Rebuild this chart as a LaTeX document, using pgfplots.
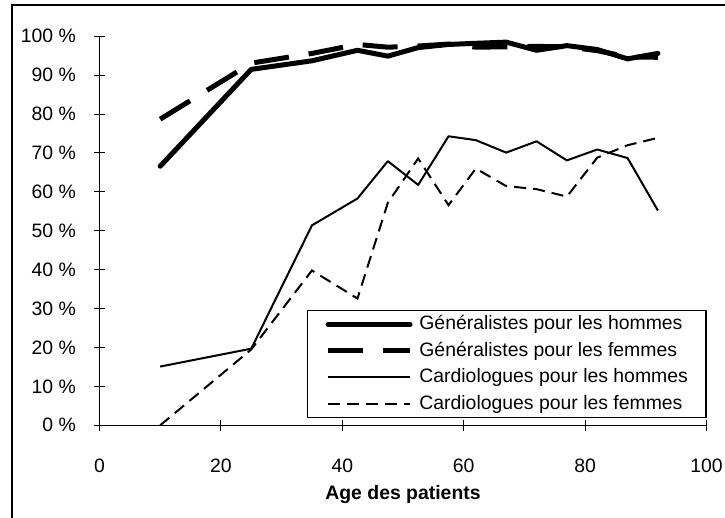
\documentclass[border=0pt]{standalone}
\usepackage{fontspec}
\setmainfont{Liberation Sans}
\usepackage{pgfplots}
\pgfplotsset{compat=1.18}
\usetikzlibrary{calc}

\begin{document}
\begin{tikzpicture}[font=\fontsize{9.7bp}{11.6bp}\selectfont]
\begin{axis}[
  scale only axis, width=303.5bp, height=194.5bp,
  xmin=0, xmax=100, ymin=0, ymax=100,
  axis x line=bottom, axis y line=left,
  axis line style={-, line width=0.5bp, black},
  tick align=center, major tick length=5.5bp,
  tick style={line width=0.5bp, black},
  xtick={0,20,40,60,80,100}, xticklabels={0,20,40,60,80,100},
  ytick={0,10,20,30,40,50,60,70,80,90,100},
  yticklabels={0 \%,10 \%,20 \%,30 \%,40 \%,50 \%,60 \%,70 \%,80 \%,90 \%,100 \%},
  xticklabel style={inner sep=0pt, anchor=north, text depth=0pt, yshift=-13.85bp},
  yticklabel style={inner sep=0pt, anchor=east, xshift=-8.9bp},
  xlabel={\bfseries Age des patients},
  xlabel style={at={(rel axis cs:0.5,0)}, anchor=base, yshift=-37.2bp, inner sep=0pt},
  clip=false,
  legend cell align=left,
  legend image code/.code={\draw[#1] (0bp,0bp) -- (41bp,0bp);},
  legend style={at={(1,0.018)}, anchor=south east, draw=black, line width=0.6bp,
    inner xsep=9bp, inner ysep=2bp, row sep=3.55bp, column sep=3.4bp,
    nodes={inner sep=0pt, text height=7.5bp, text depth=2.2bp},
    font=\fontsize{9.7bp}{11.6bp}\selectfont},
]
% Generalistes, hommes
\addplot[black, line width=2.5bp, line join=round, line cap=round] coordinates {
(10,66.6)(25,91.5)(35,93.7)(42.5,96.4)(47.5,94.9)(52.5,97.1)(57.5,97.9)
(62,98.2)(67,98.5)(72,96.4)(77,97.6)(82,96.6)(87,94.2)(92,95.6)};
% Generalistes, femmes
\addplot[black, line width=2.5bp, dash pattern=on 17.5bp off 10bp] coordinates {
(10,78.7)(25,93.1)(35,95.6)(42.5,97.9)(47.5,97.2)(52.5,97.5)(57.5,98.0)
(62,97.2)(67,97.3)(72,97.4)(77,97.3)(82,96.3)(87,94.7)(92,94.6)};
% Cardiologues, hommes
\addplot[black, line width=1bp, line join=round] coordinates {
(10,15.1)(25,19.7)(35,51.4)(42.5,58.3)(47.5,67.9)(52.5,61.8)(57.5,74.3)
(62,73.3)(67,70.1)(72,73.0)(77,68.1)(82,70.9)(87,68.7)(92,55.2)};
% Cardiologues, femmes
\addplot[black, line width=1bp, dash pattern=on 6bp off 3.5bp] coordinates {
(10,0)(25,19.5)(35,39.8)(42.5,32.6)(47.5,57.2)(52.5,68.6)(57.5,56.6)
(62,66.0)(67,61.5)(72,60.7)(77,58.8)(82,68.8)(87,72.0)(92,73.9)};
\legend{Généralistes pour les hommes,Généralistes pour les femmes,
  Cardiologues pour les hommes,Cardiologues pour les femmes}
\end{axis}
\draw[line width=1bp] ($(current axis.south west)+(-43.75bp,-80bp)$)
  |- ($(current axis.south west)+(340bp,210.15bp)$);
\pgfresetboundingbox
\path[use as bounding box] ($(current axis.south west)+(-49.75bp,-46.35bp)$)
  rectangle ($(current axis.south west)+(312.75bp,212.65bp)$);
\end{tikzpicture}
\end{document}
